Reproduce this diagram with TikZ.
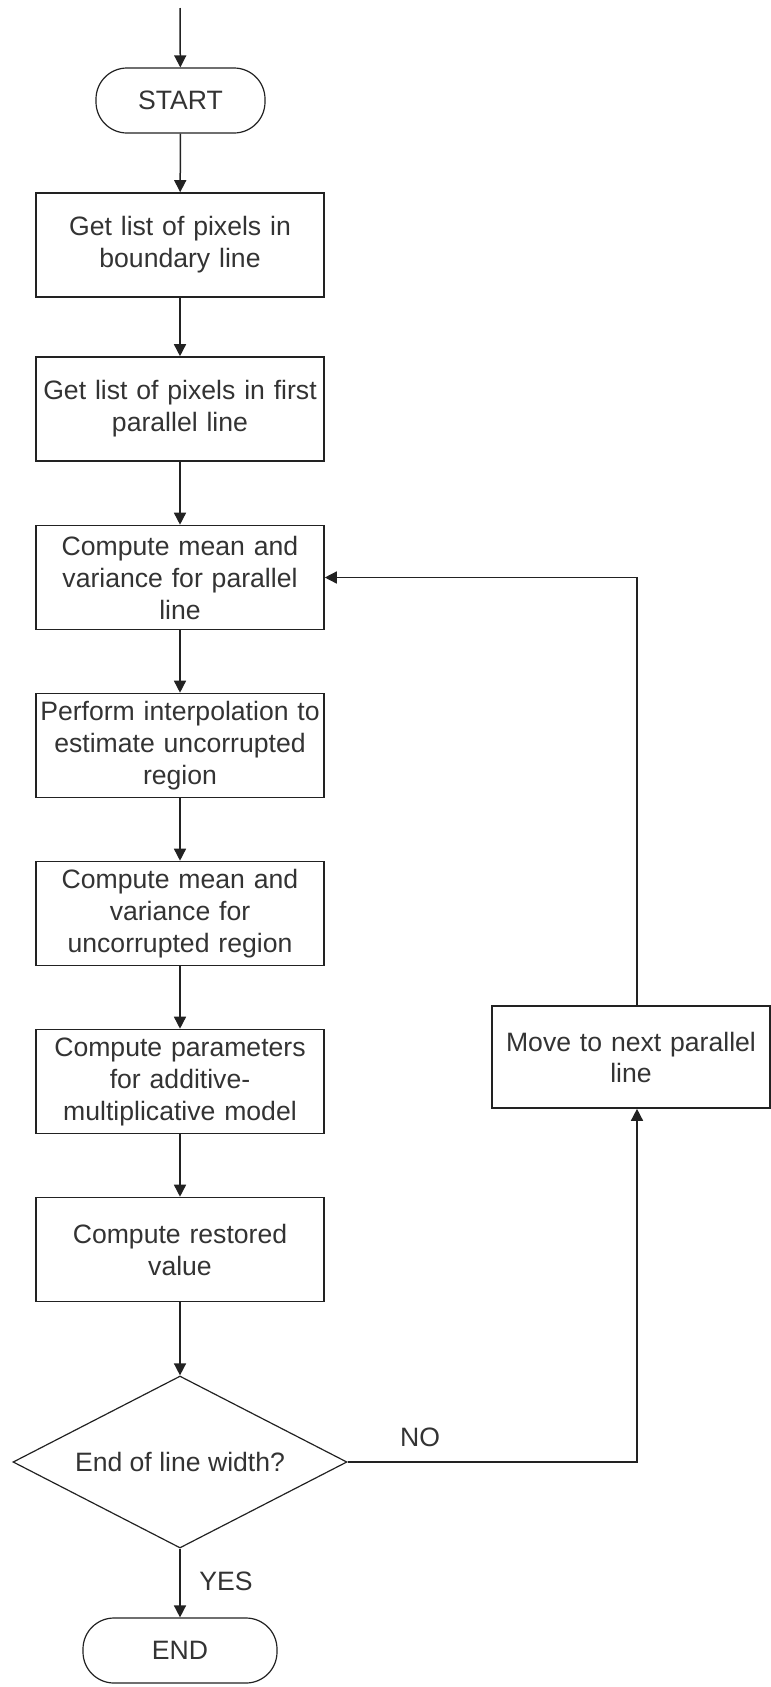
\documentclass[tikz,border=0pt]{standalone}
\usepackage{fontspec}
\setmainfont{Liberation Sans}
\usetikzlibrary{arrows.meta,shapes.geometric}
\definecolor{ink}{HTML}{222222}
\definecolor{txt}{HTML}{333333}
\begin{document}
\begin{tikzpicture}[x=1pt,y=-1pt,
  every node/.style={font=\fontsize{26.6}{32}\selectfont, text=txt},
  procbox/.style={draw=ink, line width=1.6pt, minimum width=288pt, minimum height=104pt,
    inner sep=2pt, align=center, text width=282pt},
  termbox/.style={draw=ink, line width=1.2pt, rounded corners=31pt, minimum height=65pt,
    inner sep=2pt, align=center},
  decbox/.style={draw=ink, line width=1.2pt, shape=diamond, aspect=1.94, inner sep=0pt,
    minimum width=334pt, minimum height=172pt, align=center},
  flow/.style={draw=ink, line width=1.5pt, -{Triangle[width=12pt,length=12pt]}},
  tag/.style={inner sep=0pt}
]
\useasboundingbox (0,0) rectangle (771,1687);

% terminators
\node[termbox, minimum width=169pt] (start) at (180.5,100.5) {START};
\node[termbox, minimum width=194pt] (stop) at (180,1650.5) {END};

% process steps
\node[procbox] (b1) at (180,245) {Get list of pixels in\\boundary line};
\node[procbox] (b2) at (180,409) {Get list of pixels in first\\parallel line};
\node[procbox] (b3) at (180,577.5) {Compute mean and\\variance for parallel\\line};
\node[procbox] (b4) at (180,745.5) {Perform interpolation to\\estimate uncorrupted\\region};
\node[procbox] (b5) at (180,913.5) {Compute mean and\\variance for\\uncorrupted region};
\node[procbox] (b6) at (180,1081.5) {Compute parameters\\for additive-\\multiplicative model};
\node[procbox] (b7) at (180,1249.5) {Compute restored\\value};

% decision
\node[decbox] (dec) at (180,1462) {End of line width?};

% loop step
\node[procbox, minimum width=278pt, minimum height=102pt, text width=270pt,
  font=\fontsize{26.6}{31}\selectfont] (move) at (631,1057) {Move to next parallel\\line};

% entry point and loop column
\coordinate (entry) at (180,8);
\coordinate (loopx) at (637,0);

% main flow
\draw[flow] (entry) -- (start);
\draw[flow] (start) -- (b1);
\draw[flow] (b1) -- (b2);
\draw[flow] (b2) -- (b3);
\draw[flow] (b3) -- (b4);
\draw[flow] (b4) -- (b5);
\draw[flow] (b5) -- (b6);
\draw[flow] (b6) -- (b7);
\draw[flow] (b7) -- (dec);
\draw[flow] (dec) -- (stop);

% loop back
\draw[flow] (dec.east) -| (move.south -| loopx);
\draw[flow] (move.north -| loopx) |- (b3.east);

% branch labels
\node[tag] (yes) at (226,1581) {YES};
\node[tag] (no) at (420,1437) {NO};
\end{tikzpicture}
\end{document}
